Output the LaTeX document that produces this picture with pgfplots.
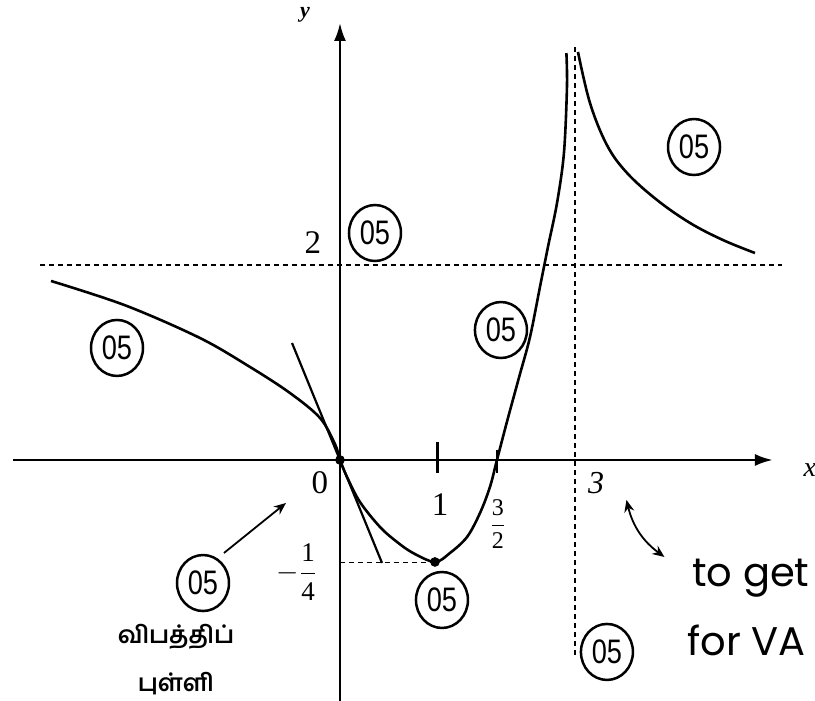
\documentclass[border=0pt]{standalone}
\usepackage{amsmath}
\usepackage{fontspec}
\setmainfont{Liberation Serif}
\newfontfamily\tamilfont[Script=Tamil]{Hind Madurai}
\newfontfamily\circfont[FakeStretch=0.8]{Liberation Sans}
\newfontfamily\handfont{Poppins}
\usepackage{pgfplots}
\pgfplotsset{compat=1.18}
\usetikzlibrary{arrows.meta,shapes.geometric}

\tikzset{
  mk/.style={ellipse, draw, line width=1.25pt, minimum width=26pt, minimum height=28pt,
    inner sep=0pt, font=\circfont\fontsize{17}{17}\selectfont},
  lbl/.style={font=\fontsize{16.5}{16.5}\selectfont},
  dsh/.style={line width=0.8pt, dash pattern=on 2.5pt off 2pt},
}

\begin{document}
\begin{tikzpicture}
\begin{axis}[
    name=ax,
    scale only axis,
    width=407.5pt, height=350.5pt,
    xmin=-3.487, xmax=4.872,
    ymin=-2.472, ymax=4.718,
    hide axis,
    clip=true,
]
% axes
\addplot[line width=1.4pt, -{Latex[length=9pt,width=6pt]}] coordinates {(-3.354,0) (4.441,0)};
\addplot[line width=1.2pt, -{Latex[length=9pt,width=6pt]}] coordinates {(0,-2.6) (0,4.482)};

% asymptotes and the -1/4 level
\addplot[dsh] coordinates {(-3.077,2) (4.533,2)};
\addplot[dsh] coordinates {(2.41,-2.0) (2.41,4.236)};
\addplot[dsh] coordinates {(0,-1.05) (0.97,-1.05)};

% tangent at the inflection point
\addplot[line width=1.1pt] coordinates {(-0.492,1.2) (0.431,-1.056)};

% ticks at 1 and 3/2
\addplot[line width=1.1pt] coordinates {(1,0.185) (1,-0.133)};
\addplot[line width=1.1pt] coordinates {(1.61,0.1) (1.61,-0.133)};

% curve left of the vertical asymptote
\addplot[line width=1.3pt, smooth, tension=0.55] coordinates {
  (-2.964,1.836) (-2.2,1.585) (-1.436,1.251) (-0.923,0.954)
  (-0.513,0.687) (-0.205,0.431) (-0.05,0.16) (0,0)
  (0.072,-0.174) (0.205,-0.431) (0.410,-0.687) (0.585,-0.841) (0.749,-0.954)
  (0.974,-1.046) (1.128,-0.954) (1.303,-0.790) (1.436,-0.544) (1.538,-0.277)
  (1.610,0) (1.72,0.42) (1.84,0.86) (1.949,1.262) (2.051,1.774)
  (2.133,2.185) (2.226,2.636) (2.297,3.149) (2.328,3.826) (2.322,4.174)
};
% curve right of the vertical asymptote
\addplot[line width=1.3pt, smooth, tension=0.6] coordinates {
  (2.441,4.185) (2.564,3.662) (2.738,3.230) (2.944,2.944) (3.251,2.667)
  (3.590,2.431) (3.928,2.256) (4.256,2.123)
};

% points at the origin and the minimum
\addplot[only marks, mark=*, mark size=2.2pt] coordinates {(0,0) (0.974,-1.046)};

% labels
\node[font=\bfseries\itshape\fontsize{11}{11}\selectfont] at (axis cs:-0.359,4.564) {y};
\node[font=\itshape\fontsize{14}{14}\selectfont] at (axis cs:4.82,-0.10) {x};
\node[lbl] at (axis cs:-0.205,-0.236) {0};
\node[lbl] at (axis cs:1.026,-0.462) {1};
\node[lbl] at (axis cs:-0.277,2.226) {2};
\node[font=\itshape\fontsize{16}{16}\selectfont] at (axis cs:2.626,-0.236) {3};
\node[font=\fontsize{12}{12}\selectfont] at (axis cs:1.62,-0.656) {$\dfrac{\text{3}}{\text{2}}$};
\node[font=\fontsize{13.5}{13.5}\selectfont] at (axis cs:-0.441,-1.149) {$-\dfrac{\text{1}}{\text{4}}$};

% mark circles
\node[mk] at (axis cs:0.359,2.328) {05};
\node[mk] at (axis cs:3.631,3.210) {05};
\node[mk] at (axis cs:-2.287,1.149) {05};
\node[mk] at (axis cs:1.651,1.333) {05};
\node[mk] at (axis cs:-1.405,-1.262) {05};
\node[mk] at (axis cs:1.046,-1.436) {05};
\node[mk] at (axis cs:2.738,-1.969) {05};

% inflection point note
\node[font=\tamilfont\bfseries\fontsize{12}{12}\selectfont] at (axis cs:-1.682,-1.815) {விபத்திப்};
\node[font=\tamilfont\bfseries\fontsize{12}{12}\selectfont] at (axis cs:-1.682,-2.29) {புள்ளி};
\draw[line width=0.9pt, -{Stealth[length=6pt,width=5pt]}] (axis cs:-1.19,-0.954) -- (axis cs:-0.554,-0.441);

% note on the vertical asymptote
\draw[line width=0.9pt, {Stealth[length=6pt,width=5pt]}-{Stealth[length=6pt,width=5pt]}]
  (axis cs:2.938,-0.41) to[bend right=20] (axis cs:3.328,-0.995);
\node[anchor=west, font=\handfont\fontsize{20}{20}\selectfont] at (axis cs:3.54,-1.21) {to get};
\node[anchor=west, font=\handfont\fontsize{20}{20}\selectfont] at (axis cs:3.49,-1.846) {for VA};
\end{axis}
\pgfresetboundingbox
\path[use as bounding box] (ax.south west) rectangle (ax.north east);
\end{tikzpicture}
\end{document}
